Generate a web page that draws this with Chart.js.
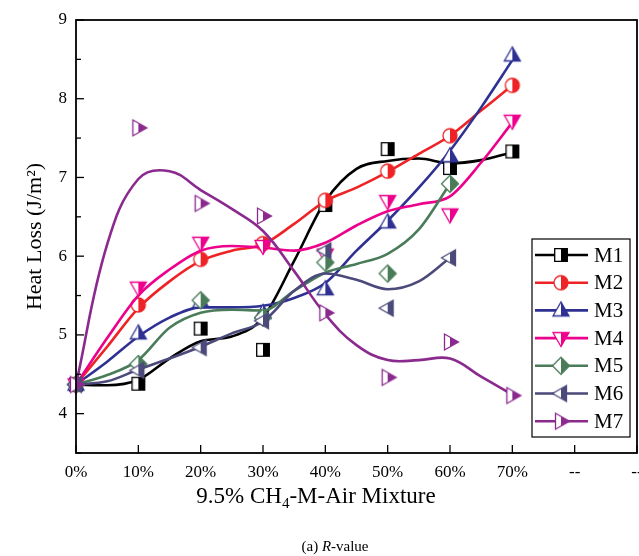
<!DOCTYPE html>
<html><head><meta charset="utf-8">
<script src="https://cdn.jsdelivr.net/npm/chart.js@4.4.0/dist/chart.umd.min.js"></script>
<style>html,body{margin:0;padding:0;background:#fff;overflow:hidden}</style>
</head><body>
<canvas id="c" width="639" height="556"></canvas>
<script>
// ---------- data ----------
const categories = ['0%','10%','20%','30%','40%','50%','60%','70%','--','--'];
const seriesNames = ['M1','M2','M3','M4','M5','M6','M7'];
// measured values (markers), one per category starting at 0%
const m1Values = [4.37, 4.38, 5.08, 4.81, 6.65, 7.36, 7.12, 7.33];
const m2Values = [4.37, 5.38, 5.96, 6.16, 6.71, 7.08, 7.53, 8.17];
const m3Values = [4.37, 5.02, 5.42, 5.28, 5.58, 6.43, 7.27, 8.55];
const m4Values = [4.37, 5.60, 6.17, 6.13, 6.02, 6.70, 6.53, 7.72];
const m5Values = [4.37, 4.63, 5.44, 5.22, 5.92, 5.78, 6.92];
const m6Values = [4.37, 4.55, 4.84, 5.18, 6.07, 5.34, 5.98];
const m7Values = [4.37, 7.63, 6.67, 6.51, 5.28, 4.46, 4.91, 4.23];
// fitted curves at 5% steps of the mixture ratio
const curveMix = [0, 5, 10, 15, 20, 25, 30, 35, 40, 45, 50, 55, 60, 65, 70];
const m1Curve = [4.37, 4.36, 4.43, 4.70, 4.92, 4.98, 5.22, 5.94, 6.70, 7.11, 7.21, 7.24, 7.18, 7.22, 7.32];
const m2Curve = [4.37, 4.85, 5.34, 5.68, 5.94, 6.07, 6.15, 6.41, 6.70, 6.87, 7.07, 7.30, 7.53, 7.85, 8.17];
const m3Curve = [4.37, 4.66, 4.98, 5.22, 5.35, 5.35, 5.37, 5.47, 5.66, 6.07, 6.45, 6.87, 7.34, 7.89, 8.49];
const m4Curve = [4.37, 4.96, 5.50, 5.83, 6.07, 6.13, 6.11, 6.07, 6.17, 6.39, 6.57, 6.66, 6.76, 7.19, 7.70];
const m5Curve = [4.37, 4.49, 4.68, 5.09, 5.28, 5.32, 5.31, 5.56, 5.79, 5.90, 6.03, 6.34, 6.92];
const m6Curve = [4.37, 4.41, 4.56, 4.70, 4.85, 5.02, 5.17, 5.56, 5.78, 5.70, 5.58, 5.68, 5.98];
const m7Curve = [4.37, 6.15, 6.98, 7.08, 6.84, 6.60, 6.32, 5.81, 5.26, 4.87, 4.68, 4.68, 4.70, 4.47, 4.24];

const seriesValues = [m1Values, m2Values, m3Values, m4Values, m5Values, m6Values, m7Values];
const seriesCurves = [m1Curve, m2Curve, m3Curve, m4Curve, m5Curve, m6Curve, m7Curve];
const seriesColors = ['#000000', '#EE2326', '#2E3192', '#EC008C', '#4A7C59', '#4B4A7A', '#8B2A8E'];
const seriesShapes = ['square', 'circle', 'triUp', 'triDown', 'diamond', 'triLeft', 'triRight'];

const xTitleMain = '9.5% CH';
const xTitleSub = '4';
const xTitleRest = '-M-Air Mixture';
const yTitle = 'Heat Loss (J/m\u00B2)';
const captionPre = '(a) ';
const captionItalic = 'R';
const captionPost = '-value';

const SERIF = "'Liberation Serif','Times New Roman',serif";

// ---------- half-filled markers ----------
function shapePath(ctx, shape, h) {
  ctx.beginPath();
  switch (shape) {
    case 'square': ctx.rect(h - 6.3, h - 6.3, 12.6, 12.6); break;
    case 'circle': ctx.arc(h, h, 7, 0, Math.PI * 2); break;
    case 'triUp': ctx.moveTo(h, h - 8.5); ctx.lineTo(h + 8, h + 5.5); ctx.lineTo(h - 8, h + 5.5); ctx.closePath(); break;
    case 'triDown': ctx.moveTo(h, h + 8.5); ctx.lineTo(h + 8, h - 5.5); ctx.lineTo(h - 8, h - 5.5); ctx.closePath(); break;
    case 'diamond': ctx.moveTo(h, h - 8.5); ctx.lineTo(h + 8.5, h); ctx.lineTo(h, h + 8.5); ctx.lineTo(h - 8.5, h); ctx.closePath(); break;
    case 'triLeft': ctx.moveTo(h - 8.5, h); ctx.lineTo(h + 5.5, h - 8); ctx.lineTo(h + 5.5, h + 8); ctx.closePath(); break;
    case 'triRight': ctx.moveTo(h + 8.5, h); ctx.lineTo(h - 5.5, h - 8); ctx.lineTo(h - 5.5, h + 8); ctx.closePath(); break;
  }
}
function makeMarker(shape, color) {
  const size = 22, h = size / 2;
  const c = document.createElement('canvas');
  c.width = size; c.height = size;
  const ctx = c.getContext('2d');
  shapePath(ctx, shape, h); ctx.fillStyle = '#fff'; ctx.fill();
  ctx.save(); ctx.beginPath(); ctx.rect(h, 0, h, size); ctx.clip();
  shapePath(ctx, shape, h); ctx.fillStyle = color; ctx.fill(); ctx.restore();
  shapePath(ctx, shape, h); ctx.strokeStyle = color; ctx.lineWidth = 1.3; ctx.stroke();
  return c;
}
const markers = seriesShapes.map((s, i) => makeMarker(s, seriesColors[i]));

// ---------- datasets ----------
const datasets = [];
seriesNames.forEach((name, i) => {
  const smoothPeak = name === 'M7';
  datasets.push({
    type: 'line', label: name + ' fit', isCurve: true,
    data: seriesCurves[i].map((v, k) => ({ x: curveMix[k] / 10, y: v })),
    borderColor: seriesColors[i], borderWidth: 2.6, pointRadius: 0,
    cubicInterpolationMode: smoothPeak ? 'default' : 'monotone', tension: 0.4,
    fill: false, order: 2 * (7 - i) + 1
  });
  datasets.push({
    type: 'scatter', label: name, seriesIndex: i,
    data: seriesValues[i].map((v, k) => ({ x: k, y: v })),
    pointStyle: markers[i], pointRadius: 7, showLine: false, clip: false,
    borderColor: seriesColors[i], backgroundColor: seriesColors[i], order: 2 * (7 - i)
  });
});

// ---------- decorations plugin ----------
const decor = {
  id: 'decor',
  afterDraw(chart) {
    const ctx = chart.ctx, a = chart.chartArea;
    const xs = chart.scales.x, ys = chart.scales.y;
    ctx.save();
    // frame
    ctx.strokeStyle = '#000'; ctx.lineWidth = 1.8;
    ctx.strokeRect(a.left, a.top, a.right - a.left, a.bottom - a.top);
    // inward ticks
    ctx.lineWidth = 1.3;
    ys.ticks.forEach(t => {
      const y = ys.getPixelForValue(t.value);
      const len = Number.isInteger(t.value) ? 8 : 5;
      ctx.beginPath(); ctx.moveTo(a.left, y); ctx.lineTo(a.left + len, y); ctx.stroke();
    });
    xs.ticks.forEach(t => {
      const x = xs.getPixelForValue(t.value);
      ctx.beginPath(); ctx.moveTo(x, a.bottom); ctx.lineTo(x, a.bottom - 8); ctx.stroke();
    });
    // x-axis title with subscript
    ctx.fillStyle = '#000'; ctx.textBaseline = 'alphabetic'; ctx.textAlign = 'left';
    const fMain = '23px ' + SERIF, fSub = '15px ' + SERIF;
    ctx.font = fMain; const w1 = ctx.measureText(xTitleMain).width; const w3 = ctx.measureText(xTitleRest).width;
    ctx.font = fSub; const w2 = ctx.measureText(xTitleSub).width;
    let x0 = 316 - (w1 + w2 + w3) / 2; const yb = 503;
    ctx.font = fMain; ctx.fillText(xTitleMain, x0, yb);
    ctx.font = fSub; ctx.fillText(xTitleSub, x0 + w1, yb + 5);
    ctx.font = fMain; ctx.fillText(xTitleRest, x0 + w1 + w2, yb);
    // caption
    const fc = '15px ' + SERIF, fci = 'italic 15px ' + SERIF;
    ctx.font = fc; const c1 = ctx.measureText(captionPre).width, c3 = ctx.measureText(captionPost).width;
    ctx.font = fci; const c2 = ctx.measureText(captionItalic).width;
    let cx = 335 - (c1 + c2 + c3) / 2; const cy = 551;
    ctx.font = fc; ctx.fillText(captionPre, cx, cy);
    ctx.font = fci; ctx.fillText(captionItalic, cx + c1, cy);
    ctx.font = fc; ctx.fillText(captionPost, cx + c1 + c2, cy);
    // legend
    const lx = 532, ly = 239, lw = 98, lh = 198;
    ctx.fillStyle = '#fff'; ctx.fillRect(lx, ly, lw, lh);
    ctx.strokeStyle = '#000'; ctx.lineWidth = 1.2; ctx.strokeRect(lx, ly, lw, lh);
    const items = chart.data.datasets.filter(d => !d.isCurve);
    items.forEach((d, k) => {
      const y = ly + 16 + k * 27.7;
      const i = d.seriesIndex;
      ctx.strokeStyle = seriesColors[i]; ctx.lineWidth = 2.6;
      ctx.beginPath(); ctx.moveTo(lx + 3, y); ctx.lineTo(lx + 56, y); ctx.stroke();
      ctx.drawImage(markers[i], lx + 29 - 11, y - 11);
      ctx.fillStyle = '#000'; ctx.font = '21px ' + SERIF; ctx.textBaseline = 'middle';
      ctx.fillText(d.label, lx + 62, y + 1);
    });
    ctx.restore();
  }
};

new Chart(document.getElementById('c'), {
  data: { datasets },
  options: {
    responsive: false, animation: false,
    layout: { autoPadding: false, padding: { top: 20, right: 2, left: 0, bottom: 0 } },
    plugins: { legend: { display: false }, tooltip: { enabled: false } },
    scales: {
      x: {
        type: 'linear', min: 0, max: 9,
        grid: { display: false, drawTicks: false }, border: { display: false },
        ticks: { stepSize: 1, autoSkip: false, maxRotation: 0, padding: 9, color: '#000',
          font: { family: SERIF, size: 17 }, callback: v => categories[v] ?? '' },
        afterFit: s => { s.height = 103; s.paddingRight = 0; s.paddingLeft = 0; }
      },
      y: {
        min: 3.5, max: 9,
        grid: { display: false, drawTicks: false }, border: { display: false },
        ticks: { stepSize: 0.5, padding: 9, color: '#000', font: { family: SERIF, size: 17 },
          callback: v => Number.isInteger(v) ? String(v) : '' },
        title: { display: true, text: yTitle, color: '#000', font: { family: SERIF, size: 22 }, padding: { top: 22, bottom: 0 } },
        afterFit: s => { s.width = 76; }
      }
    }
  },
  plugins: [decor]
});
</script>
</body></html>
